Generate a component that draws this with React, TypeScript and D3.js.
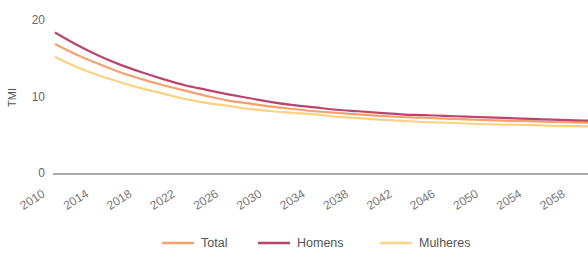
import React from "react";
import * as d3 from "d3";

const years = [2010, 2012, 2014, 2016, 2018, 2020, 2022, 2024, 2026, 2028, 2030, 2032, 2034, 2036, 2038, 2040, 2042, 2044, 2046, 2048, 2050, 2052, 2054, 2056, 2058, 2060];
const homens = [18.5, 16.9, 15.5, 14.3, 13.3, 12.4, 11.6, 11.0, 10.4, 9.9, 9.4, 9.0, 8.7, 8.4, 8.2, 8.0, 7.8, 7.7, 7.6, 7.5, 7.4, 7.3, 7.2, 7.1, 7.0, 6.95];
const total = [17.0, 15.6, 14.4, 13.3, 12.4, 11.6, 10.9, 10.2, 9.6, 9.2, 8.8, 8.5, 8.2, 8.0, 7.8, 7.6, 7.45, 7.35, 7.25, 7.15, 7.05, 6.95, 6.9, 6.8, 6.75, 6.7];
const mulheres = [15.3, 14.0, 12.9, 12.0, 11.2, 10.5, 9.8, 9.3, 8.9, 8.5, 8.2, 8.0, 7.8, 7.5, 7.3, 7.1, 6.95, 6.8, 6.7, 6.6, 6.5, 6.45, 6.4, 6.3, 6.25, 6.2];
const xTicks = [2010, 2014, 2018, 2022, 2026, 2030, 2034, 2038, 2042, 2046, 2050, 2054, 2058];
const yTicks = [0, 10, 20];
const seriesNames = ["Total", "Homens", "Mulheres"];
const seriesColors = ["#f5a06e", "#b8466c", "#fcd182"];

export default function App() {
  const W = 588, H = 259;
  const x = d3.scaleLinear().domain([2010, 2060]).range([55, 596.5]);
  const y = d3.scaleLinear().domain([0, 20]).range([174, 21]);
  const seriesValues = [total, homens, mulheres];
  const line = d3
    .line<[number, number]>()
    .x((d) => x(d[0]))
    .y((d) => y(d[1]))
    .curve(d3.curveMonotoneX);
  const drawOrder = [2, 0, 1];
  const legendX = [162, 258, 380];
  const font = "'Liberation Sans', Arial, sans-serif";
  return (
    <svg width={W} height={H} style={{ position: "absolute", left: 0, top: 0, background: "#fff" }} fontFamily={font}>
      <rect width={W} height={H} fill="#fff" />
      {yTicks.map((t) => (
        <text key={t} x={45} y={y(t) - 1} dy="0.35em" textAnchor="end" fontSize={12} fill="#666">
          {t}
        </text>
      ))}
      <text transform={`translate(16,${y(10)}) rotate(-90)`} textAnchor="middle" fontSize={11} fill="#555">
        TMI
      </text>
      <line x1={53} x2={W} y1={y(0)} y2={y(0)} stroke="#555" strokeWidth={1} />
      {xTicks.map((t) => (
        <text
          key={t}
          transform={`translate(${x(t) - 9},${y(0) + 22}) rotate(-32)`}
          textAnchor="end"
          fontSize={12}
          fill="#777"
        >
          {t}
        </text>
      ))}
      {drawOrder.map((i) => (
        <path
          key={seriesNames[i]}
          d={line(years.map((yr, k) => [yr, seriesValues[i][k]] as [number, number])) || ""}
          fill="none"
          stroke={seriesColors[i]}
          strokeWidth={2.2}
        />
      ))}
      {seriesNames.map((n, i) => (
        <g key={n} transform={`translate(${legendX[i]},243)`}>
          <line x1={0} x2={32} y1={0} y2={0} stroke={seriesColors[i]} strokeWidth={2.5} />
          <text x={39} y={0} dy="0.35em" fontSize={12.5} fill="#555">
            {n}
          </text>
        </g>
      ))}
    </svg>
  );
}
